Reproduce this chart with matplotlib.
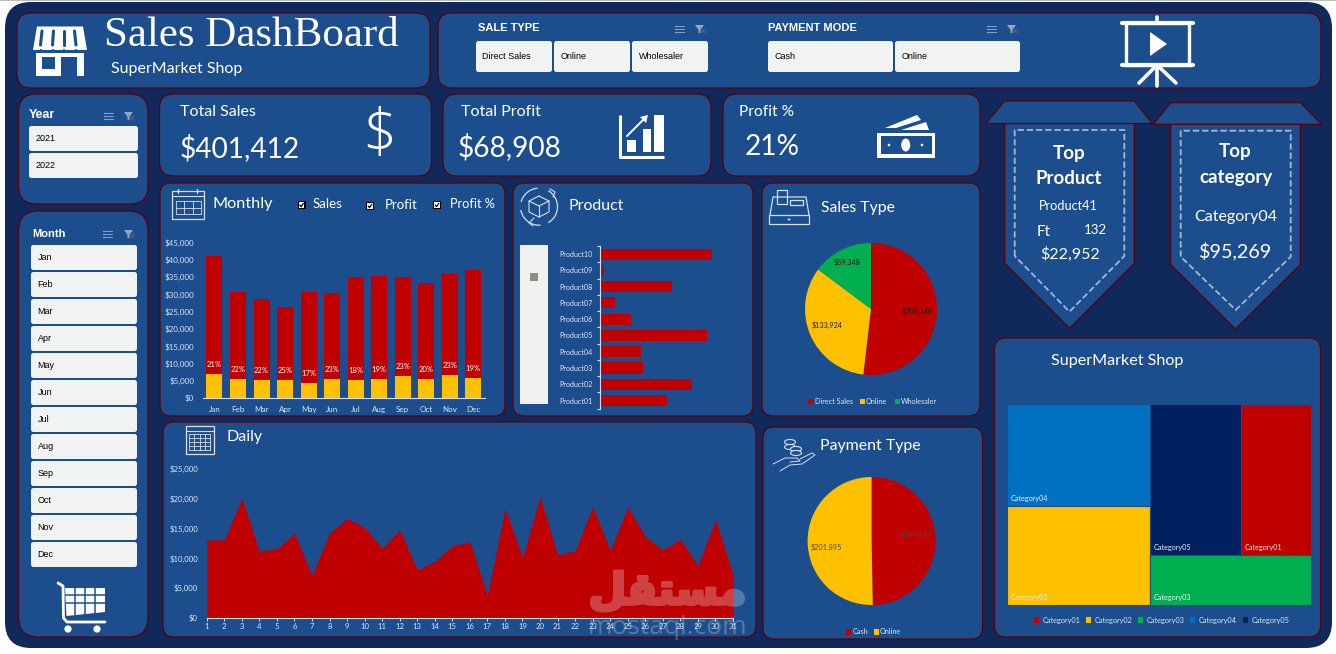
import numpy as np
import matplotlib
matplotlib.use("Agg")
import matplotlib.pyplot as plt
import matplotlib.patheffects as pe
from matplotlib.patches import FancyBboxPatch, Polygon, Rectangle, Circle, Ellipse, Arc

W, H = 1336, 654
DARK = "#11295A"
PANEL = "#1C4E8E"
EDGE = "#5A0008"
RED = "#C00000"
YELLOW = "#FFC000"
GREEN = "#00B050"
BLUE = "#0070C0"
NAVY = "#002060"
BUTTON = "#F1F2F2"
TICK = "#DCE5F1"
PALE = "#D5DFEC"

months = ["Jan", "Feb", "Mar", "Apr", "May", "Jun", "Jul", "Aug", "Sep", "Oct", "Nov", "Dec"]
monthly_sales = [41000, 30700, 28600, 26300, 30700, 30300, 34900, 35300, 34900, 33200, 35900, 37000]
monthly_profit = [7000, 5600, 5300, 5300, 4400, 5600, 5300, 5600, 6400, 5600, 6700, 5900]
monthly_pct = [21, 22, 22, 25, 17, 23, 18, 19, 23, 20, 23, 19]

products = ["Product01", "Product02", "Product03", "Product04", "Product05",
            "Product06", "Product07", "Product08", "Product09", "Product10"]
product_sales = [46900, 64000, 30200, 28800, 74700, 21800, 10700, 50100, 2800, 78000]

sale_types = ["Direct Sales", "Online", "Wholesaler"]
sale_type_values = [208140, 133924, 59348]
payment_modes = ["Cash", "Online"]
payment_values = [199517, 201895]

days = list(range(1, 32))
daily_sales = [13060, 13060, 20000, 11230, 11560, 14170, 7110, 14170, 16670, 15110, 11670,
               14720, 8060, 9450, 12060, 12730, 3780, 18340, 10110, 20280, 10560, 11230,
               18620, 11280, 18560, 13620, 11390, 13170, 8720, 16500, 7220]

categories = ["Category01", "Category02", "Category03", "Category04", "Category05"]
category_sales = [69500, 93200, 52443, 95269, 91000]
category_colors = [RED, YELLOW, GREEN, BLUE, NAVY]

years = ["2021", "2022"]

BODY = ["Lato", "DejaVu Sans"]
SLICER = ["Liberation Sans", "DejaVu Sans"]
plt.rcParams["font.family"] = BODY

fig = plt.figure(figsize=(W / 100, H / 100), dpi=100, facecolor="white")


def pixel_axes(z):
    a = fig.add_axes([0, 0, 1, 1], zorder=z)
    a.set_xlim(0, W)
    a.set_ylim(H, 0)
    a.axis("off")
    a.patch.set_alpha(0)
    return a


back = pixel_axes(0)
top = pixel_axes(5)


def inset(x0, y0, x1, y1):
    a = fig.add_axes([x0 / W, 1 - y1 / H, (x1 - x0) / W, (y1 - y0) / H], zorder=2)
    a.patch.set_alpha(0)
    return a


def rbox(a, x0, y0, x1, y1, r, fc=PANEL, ec=EDGE, lw=0.9, z=1):
    a.add_patch(FancyBboxPatch((x0, y0), x1 - x0, y1 - y0,
                               boxstyle=f"round,pad=0,rounding_size={r}",
                               fc=fc, ec=ec, lw=lw, zorder=z))


def text(x, y, s, size, color="white", ha="left", va="center", **kw):
    return top.text(x, y, s, fontsize=size, color=color, ha=ha, va=va, **kw)


def line(xs, ys, color="white", lw=1.0, **kw):
    top.plot(xs, ys, color=color, lw=lw, solid_capstyle=kw.pop("cap", "round"), **kw)


# Dashboard background and cards
back.add_patch(Rectangle((0, 0), W, 1.4, fc="#BDBDBD", ec="none"))
rbox(back, 5, 2, 1332, 648, 26, fc=DARK, ec="none", lw=0)
cards = [
    (17, 13, 430, 88, 14), (438, 13, 1321, 88, 14),
    (18.5, 94, 148, 204, 18), (18.5, 211, 148, 637, 20),
    (159.5, 94, 431.5, 176, 14), (443, 94, 711, 176, 14), (723, 94, 980, 176, 14),
    (160, 183, 505, 416, 11), (513, 183, 753, 416, 11), (762, 183, 980, 416, 11),
    (163, 422, 756, 637, 11), (763, 427, 982.5, 639, 11), (994.5, 338, 1320.5, 637, 11),
]
for c in cards:
    rbox(back, *c)


# Ribbon badges on the right
def badge(xl, xr, xa, xb, ytop, ybar, yside, yapex, dx0, dx1, dy0, dys, dya):
    xm = (xl + xr) / 2
    dm = (dx0 + dx1) / 2
    back.add_patch(Polygon([(xl, ybar), (xl, yside), (xm, yapex), (xr, yside), (xr, ybar)],
                           fc=PANEL, ec=EDGE, lw=0.9, zorder=2))
    back.add_patch(Polygon([(xa, ybar), (xl, ytop), (xr, ytop), (xb, ybar)],
                           fc=PANEL, ec=EDGE, lw=0.9, zorder=3))
    back.plot([dx0, dx0, dx1, dx1, dm, dx0], [dys, dy0, dy0, dys, dya, dys],
              color="#A6B7D1", lw=1.3, dashes=(3.5, 1.6), zorder=4)


badge(1004.7, 1134.3, 985.7, 1152.3, 101, 123.5, 263.3, 328.3, 1014.7, 1124.3, 130, 256, 311.7)
badge(1170.7, 1300.3, 1153.3, 1321.7, 102.7, 124.3, 264.7, 329, 1180.7, 1290.7, 130.7, 256.7, 310)

text(1069, 154, "Top", 13.5, ha="center", weight="bold")
text(1069, 179, "Product", 13.5, ha="center", weight="bold")
text(1068, 205.5, "Product41", 9.2, ha="center")
text(1037, 231.5, "Ft", 11)
text(1095.5, 230, "132", 9.5, ha="center")
text(1070, 254, "$22,952", 11.5, ha="center")
text(1235.5, 152, "Top", 13.5, ha="center", weight="bold")
text(1235.5, 177, "category", 13.5, ha="center", weight="bold")
text(1236, 217.5, "Category04", 11.5, ha="center")
text(1235.5, 251.5, "$95,269", 14.2, ha="center")

# Header
text(104.5, 35.5, "Sales DashBoard", 31, family="Liberation Serif")
text(111, 69, "SuperMarket Shop", 11.5)

# KPI cards
text(180, 111.5, "Total Sales", 11.5)
text(179.5, 148, "$401,412", 20.2)
text(461, 111.5, "Total Profit", 11.5)
text(457.5, 147, "$68,908", 20.2)
text(739, 112.5, "Profit %", 11.2)
text(744.5, 147, "21%", 20.2)
text(379, 136, "$", 43, ha="center", family="Open Sans", weight="light")

# Card titles
text(212.5, 204, "Monthly", 11.7)
text(313, 204.5, "Sales", 9.5)
text(385, 205, "Profit", 9.5)
text(450, 203.5, "Profit %", 9.2)
text(568, 206, "Product", 11.4)
text(821, 208, "Sales Type", 11.3)
text(820, 446, "Payment Type", 11.4)
text(227, 437, "Daily", 11.5)
text(1051, 360.5, "SuperMarket Shop", 11.6)


def checkbox(x, y):
    top.add_patch(Rectangle((x - 4, y - 4), 8, 8, fc="black", ec="none"))
    top.add_patch(Rectangle((x - 2.6, y - 2.6), 5.2, 5.2, fc="white", ec="none"))
    line([x - 1.8, x - 0.4, x + 1.8], [y, y + 1.6, y - 1.6], color="black", lw=0.9)


checkbox(301.5, 205)
checkbox(370, 206)
checkbox(437, 205)


def slicer_icons(x1, x2, y):
    c = "#8FA5C2"
    for k in (-3, 0, 3):
        line([x1 + 3, x1 + 9], [y + k, y + k], color=c, lw=0.7)
        line([x1, x1 + 1.6], [y + k, y + k], color=c, lw=0.9)
    top.add_patch(Polygon([(x2, y - 4), (x2 + 9, y - 4), (x2 + 5.5, y + 1), (x2 + 5.5, y + 4), (x2 + 3.5, y + 4),
                           (x2 + 3.5, y + 1)], fc=c, ec="none"))
    line([x2 + 6, x2 + 10], [y, y + 4], color="#50627E", lw=0.8)
    line([x2 + 10, x2 + 6], [y, y + 4], color="#50627E", lw=0.8)


def slicer_button(x0, y0, x1, y1, label):
    rbox(top, x0, y0, x1, y1, 2.5, fc=BUTTON, ec="none", lw=0, z=1)
    text(x0 + 6.5, (y0 + y1) / 2 + 0.3, label, 6.5, color="black", family=SLICER, zorder=2)


# Slicers
text(477.5, 28, "SALE TYPE", 8, weight="bold", family=SLICER)
slicer_icons(675, 695, 29)
for (x0, x1), lab in zip([(476, 552), (554, 630), (632, 708)], sale_types):
    slicer_button(x0, 41, x1, 72, lab)

text(768.5, 27.7, "PAYMENT MODE", 8, weight="bold", family=SLICER)
slicer_icons(987, 1007, 29)
for (x0, x1), lab in zip([(768, 893), (895, 1020)], payment_modes):
    slicer_button(x0, 41, x1, 72, lab)

text(29, 115, "Year", 9, weight="bold", family=SLICER)
slicer_icons(104, 124, 116)
for (y0, lab) in zip([126, 153], years):
    slicer_button(29, y0, 138, y0 + 25, lab)

text(32.5, 234, "Month", 8, weight="bold", family=SLICER)
slicer_icons(103, 124, 234)
for i, m in enumerate(months):
    slicer_button(31, 245 + 27 * i, 137, 270 + 27 * i, m)

# Monthly stacked columns with profit share labels
ax = inset(202.7, 242.6, 485, 398)
xs = np.arange(len(months))
remainder = np.array(monthly_sales) - np.array(monthly_profit)
ax.bar(xs, monthly_profit, width=0.68, color=YELLOW)
ax.bar(xs, remainder, width=0.68, bottom=monthly_profit, color=RED)
for x, p, pct in zip(xs, monthly_profit, monthly_pct):
    ax.annotate(f"{pct}%", (x, p), xytext=(0, 6.6), textcoords="offset points",
                ha="center", va="center", color="white", fontsize=5.5)
ax.set_xlim(-0.5, 11.5)
ax.set_ylim(0, 45000)
ax.set_xticks(xs, months)
ax.set_yticks(range(0, 45001, 5000), [f"${v:,}" for v in range(0, 45001, 5000)])
ax.tick_params(axis="both", length=0, labelcolor=TICK, labelsize=5.8)
ax.tick_params(axis="x", pad=5.5)
ax.tick_params(axis="y", pad=6.2)
for s in ("top", "left", "right"):
    ax.spines[s].set_visible(False)
ax.spines["bottom"].set_color(PALE)
ax.spines["bottom"].set_linewidth(0.8)

# Product bars
top.add_patch(Rectangle((520, 245), 28, 159, fc="#F1F1F1", ec="none"))
top.add_patch(Rectangle((530, 273), 8, 8, fc="#8A8F7C", ec="none"))
ax = inset(599.7, 246, 740, 408.7)
ys = np.arange(len(products))
ax.barh(ys, product_sales, height=0.68, color=RED)
ax.set_ylim(-0.5, 9.5)
ax.set_xlim(0, 97500)
ax.set_xticks([])
ax.set_yticks(ys, products)
ax.set_yticks(np.arange(-0.5, 10), minor=True)
ax.tick_params(axis="y", which="major", length=0, labelcolor=TICK, labelsize=5.2, pad=5.2)
ax.tick_params(axis="y", which="minor", length=2, color=PALE, width=0.8)
for s in ("top", "bottom", "right"):
    ax.spines[s].set_visible(False)
ax.spines["left"].set_color(PALE)
ax.spines["left"].set_linewidth(0.8)


def money_pie(cx, cy, r, values, colors, label_color, nudges):
    a = inset(cx - r, cy - r, cx + r, cy + r)
    _, labels = a.pie(values, colors=colors, startangle=90, counterclock=False, radius=1,
                      labels=[f"${v:,}" for v in values], labeldistance=0.7,
                      textprops={"fontsize": 5.2, "color": label_color})
    for t, (dx, dy) in zip(labels, nudges):
        px, py = t.get_position()
        t.set_position((px + dx / r, py - dy / r))
        t.set_ha("center")
        t.set_va("center")
    a.set_xlim(-1, 1)
    a.set_ylim(-1, 1)
    return a


def legend_row(y, entries, size=5.2):
    for sx, tx, color, label in entries:
        top.add_patch(Rectangle((sx, y - 2.6), 5.2, 5.2, fc=color, ec="none"))
        text(tx, y, label, size, color=TICK)


money_pie(871, 309, 66, sale_type_values, [RED, YELLOW, GREEN], "#1B1B1B", [(0, 0), (-1, -2), (-3, -5)])
legend_row(401.7, [(807.7, 815, RED, sale_types[0]), (860, 866, YELLOW, sale_types[1]),
                   (895, 901, GREEN, sale_types[2])])

money_pie(871.6, 541, 64, payment_values, [RED, YELLOW], "#4A4A4A", [(0, -5), (0, 5.5)])
legend_row(632, [(846, 852.5, RED, payment_modes[0]), (873.5, 879.6, YELLOW, payment_modes[1])])

# Daily area
ax = inset(206.7, 468.5, 733, 618)
ax.fill_between(days, 0, daily_sales, color=RED, lw=0)
ax.set_xlim(1, 31)
ax.set_ylim(0, 25000)
ax.set_xticks(days, [str(d) for d in days])
ax.set_yticks(range(0, 25001, 5000), [f"${v:,}" for v in range(0, 25001, 5000)])
ax.tick_params(axis="x", length=2, width=0.7, color=PALE, labelcolor=TICK, labelsize=5.6, pad=1.8)
ax.tick_params(axis="y", length=0, labelcolor=TICK, labelsize=5.6, pad=6.2)
for s in ("top", "left", "right"):
    ax.spines[s].set_visible(False)
ax.spines["bottom"].set_color(PALE)
ax.spines["bottom"].set_linewidth(0.8)

# Treemap laid out from the category totals
ax = inset(1007, 404, 1311.3, 605)
by_name = dict(zip(categories, category_sales))
colors = dict(zip(categories, category_colors))
total = sum(category_sales)
left_w = (by_name["Category04"] + by_name["Category02"]) / total
top_share = by_name["Category04"] / (by_name["Category04"] + by_name["Category02"])
right_total = total - by_name["Category04"] - by_name["Category02"]
upper = by_name["Category05"] + by_name["Category01"]
upper_h = upper / right_total
split = by_name["Category05"] / upper
cells = {
    "Category04": (0, 1 - top_share, left_w, top_share),
    "Category02": (0, 0, left_w, 1 - top_share),
    "Category05": (left_w, 1 - upper_h, (1 - left_w) * split, upper_h),
    "Category01": (left_w + (1 - left_w) * split, 1 - upper_h, (1 - left_w) * (1 - split), upper_h),
    "Category03": (left_w, 0, 1 - left_w, 1 - upper_h),
}
for name, (x, y, w, h) in cells.items():
    ax.add_patch(Rectangle((x, y), w, h, fc=colors[name], ec=PANEL, lw=0.8))
    ax.annotate(name, (x, y), xytext=(2.4, 5.4), textcoords="offset points",
                ha="left", va="center", color="#EEF2F8", fontsize=5.2)
ax.set_xlim(0, 1)
ax.set_ylim(0, 1)
ax.axis("off")
legend_row(620, [(1033.5, 1043, RED, categories[0]), (1086, 1095, YELLOW, categories[1]),
                 (1138, 1147, GREEN, categories[2]), (1190, 1199, BLUE, categories[3]),
                 (1243, 1252, NAVY, categories[4])], size=5.3)

# Shop icon
top.add_patch(Polygon([(37, 26.5), (83, 26.5), (87, 50), (33, 50)], fc="white", ec="none"))
for xa, xb in [(42, 40.5), (53.5, 52.5), (64, 64), (74.5, 76)]:
    line([xa, xb], [31, 45], color=PANEL, lw=2.2)
    line([xb, xb], [48.5, 51], color=PANEL, lw=1.2, cap="butt")
top.add_patch(Rectangle((36, 53), 48, 23, fc="white", ec="none"))
top.add_patch(Rectangle((42, 57), 13, 12, fc=PANEL, ec="none"))
top.add_patch(Rectangle((61, 57), 16, 19, fc=PANEL, ec="none"))

# Dollar-chart icon
line([620, 620, 663.5], [115, 157, 157], lw=2.2, cap="butt")
for x0, x1, yt in [(627, 636, 140), (643, 651, 129), (654, 663.5, 115)]:
    top.add_patch(Rectangle((x0, yt), x1 - x0, 152 - yt, fc="white", ec="none"))
line([627, 645], [136, 118], lw=1.4)
top.add_patch(Polygon([(648, 115), (640, 117), (646, 123)], fc="white", ec="none"))

# Banknote icon
top.add_patch(Rectangle((877, 132.5), 58, 25, fc="white", ec="none"))
top.add_patch(Rectangle((880.5, 136), 51, 18, fc=PANEL, ec="none"))
top.add_patch(Ellipse((905.7, 145), 9, 13, fc="white", ec="none"))
top.add_patch(Circle((889, 145), 1.3, fc="white", ec="none"))
top.add_patch(Circle((922, 145), 1.3, fc="white", ec="none"))
top.add_patch(Polygon([(885, 128), (917, 115), (921, 120), (896, 128)], fc="white", ec="none"))
top.add_patch(Polygon([(901, 130), (926, 122), (929, 130)], fc="white", ec="none"))

# Presentation board icon
line([1157, 1157], [17, 23], lw=2.6)
top.add_patch(Rectangle((1125.5, 23), 63, 42, fc=PANEL, ec="white", lw=2.4))
line([1122, 1193], [22.5, 22.5], lw=3)
line([1122, 1193], [65, 65], lw=3)
line([1157, 1157], [65, 86], lw=2.6)
line([1157, 1139], [65, 83], lw=2.6)
line([1157, 1176], [65, 83], lw=2.6)
top.add_patch(Polygon([(1150, 32), (1150, 56), (1167, 44)], fc="white", ec="none"))


# Calendar icons
def grid_icon(x0, y0, x1, y1, gx0, gy0, gx1, gy1, nx, ny):
    top.add_patch(Rectangle((x0, y0), x1 - x0, y1 - y0, fc="none", ec=PALE, lw=0.9))
    for gx in np.linspace(gx0, gx1, nx):
        line([gx, gx], [gy0, gy1], color=PALE, lw=0.6)
    for gy in np.linspace(gy0, gy1, ny):
        line([gx0, gx1], [gy, gy], color=PALE, lw=0.6)


grid_icon(172, 191, 204, 218.7, 176, 201, 201, 214, 4, 3)
line([172, 204], [196, 196], color=PALE, lw=0.8)
line([178, 178], [188.5, 193], color=PALE, lw=1)
line([197, 197], [188.5, 193], color=PALE, lw=1)
grid_icon(186, 426, 213.6, 454, 189, 434, 210, 450, 5, 5)
line([186, 213.6], [431, 431], color=PALE, lw=0.8)

# Product cycle icon
top.add_patch(Arc((539, 206.7), 37, 37, theta1=-60, theta2=60, ec=PALE, lw=0.9))
top.add_patch(Arc((539, 206.7), 37, 37, theta1=85, theta2=170, ec=PALE, lw=0.9))
top.add_patch(Arc((539, 206.7), 37, 37, theta1=195, theta2=265, ec=PALE, lw=0.9))
line([550, 555, 553], [189, 192, 197], color=PALE, lw=0.8)
line([534, 529, 533], [218, 223, 226], color=PALE, lw=0.8)
cube = [(539, 196), (549, 201), (549, 212), (539, 217), (529, 212), (529, 201), (539, 196)]
line([p[0] for p in cube], [p[1] for p in cube], color=PALE, lw=0.8)
line([529, 539, 549], [201, 206, 201], color=PALE, lw=0.8)
line([539, 539], [206, 217], color=PALE, lw=0.8)

# Cash register icon
top.add_patch(Rectangle((769, 215), 40, 9, fc=PANEL, ec=PALE, lw=0.9))
line([770, 773, 806, 809], [215, 197, 197, 215], color=PALE, lw=0.9)
top.add_patch(Rectangle((777, 190), 10, 14, fc=PANEL, ec=PALE, lw=0.9))
top.add_patch(Rectangle((790, 200), 13, 5, fc="none", ec=PALE, lw=0.9))
top.add_patch(Ellipse((789, 219.5), 3, 2, fc=PALE, ec="none"))

# Coins in a hand icon
for cxx, cyy in [(790, 442), (790, 447), (796, 449), (796, 453)]:
    top.add_patch(Ellipse((cxx, cyy), 11, 5, fc=PANEL, ec=PALE, lw=0.8))
line([773, 785, 797, 800, 790], [464, 458, 458, 461, 462], color=PALE, lw=0.7)
line([780, 790, 802, 815, 812, 800], [471, 465, 464, 455, 453, 459], color=PALE, lw=0.7)

# Shopping cart icon
top.add_patch(Polygon([(65, 588), (105, 588), (105, 612), (66.5, 616)], fc="white", ec="none"))
for gx in (75, 84.5, 94.5):
    line([gx, gx], [588, 615], color=PANEL, lw=1.1, cap="butt")
for gy in (595, 603):
    line([65, 105], [gy, gy], color=PANEL, lw=1.1, cap="butt")
line([58, 63, 63.5, 67, 105], [583, 586, 618, 622, 622], lw=2)
top.add_patch(Circle((68, 629), 3.6, fc="white", ec="none"))
top.add_patch(Circle((97, 629), 3.6, fc="white", ec="none"))


# Site mark across the lower right of the daily chart; the layer is drawn
# opaque with a thickening stroke, then faded as a whole by the filter.
def fade(img, dpi):
    out = img.copy()
    out[..., 3] *= 0.28
    return out, 0, 0


thick = [pe.Stroke(linewidth=2.6, foreground="#F2F2F2"), pe.Normal()]
logo = top.text(667.5, 592, "\ufede\ufed8\ufe98\ufeb4\ufee3", fontsize=31, color="#F2F2F2",
                ha="center", va="center", family="DejaVu Sans", weight="bold", path_effects=thick)
logo.set_agg_filter(fade)
site = top.text(668, 628, "mostaql.com", fontsize=19, color="#E8E8E8", ha="center", va="center",
                family="Open Sans")
site.set_agg_filter(fade)

fig.savefig("out.png", dpi=100, facecolor="white")
